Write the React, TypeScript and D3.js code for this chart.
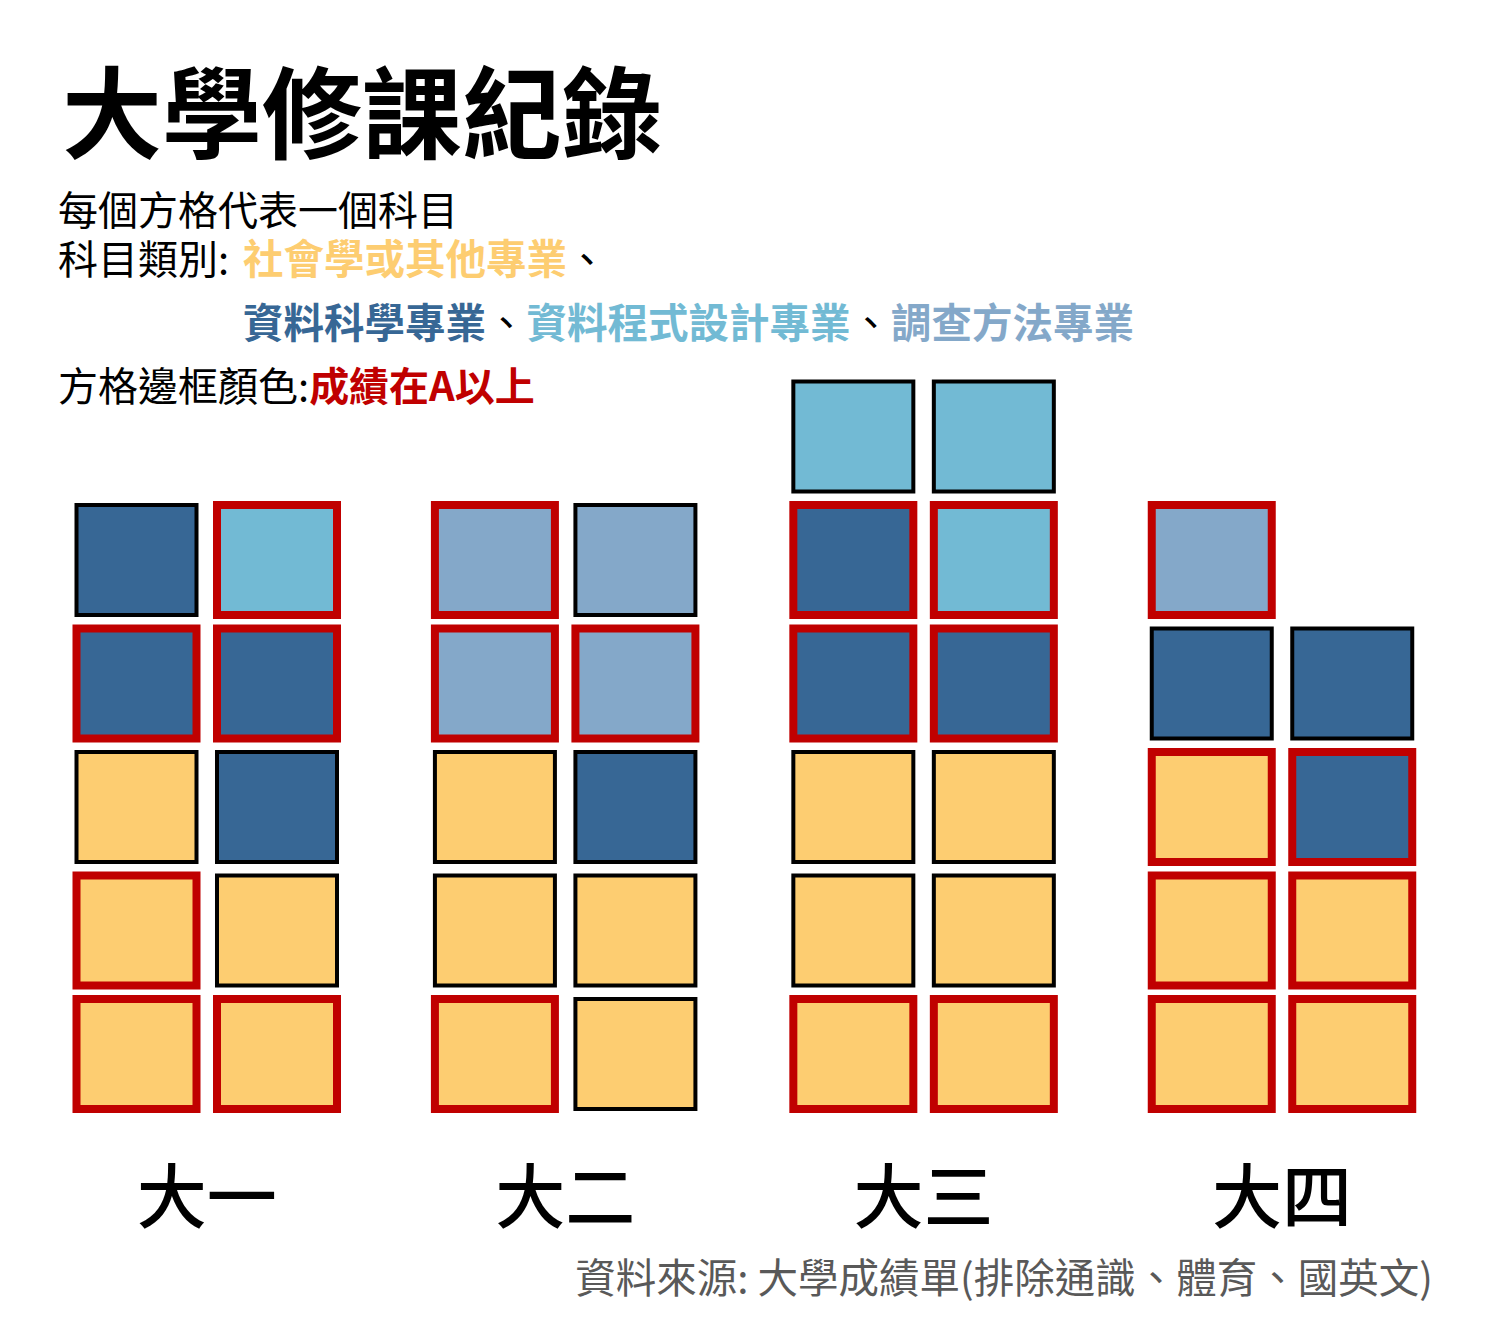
import React from 'react';
import { scaleLinear, scaleOrdinal } from 'd3';

const yearLabels = ['大一', '大二', '大三', '大四'];
const categories = ['社會學或其他專業', '資料科學專業', '資料程式設計專業', '調查方法專業'];
const categoryColors = ['#FDCD71', '#376795', '#72BAD4', '#84A8C9'];

// each column: course types bottom -> top, and whether the grade was A or above
const y1LeftType = ['社會學或其他專業', '社會學或其他專業', '社會學或其他專業', '資料科學專業', '資料科學專業'];
const y1LeftA = [true, true, false, true, false];
const y1RightType = ['社會學或其他專業', '社會學或其他專業', '資料科學專業', '資料科學專業', '資料程式設計專業'];
const y1RightA = [true, false, false, true, true];

const y2LeftType = ['社會學或其他專業', '社會學或其他專業', '社會學或其他專業', '調查方法專業', '調查方法專業'];
const y2LeftA = [true, false, false, true, true];
const y2RightType = ['社會學或其他專業', '社會學或其他專業', '資料科學專業', '調查方法專業', '調查方法專業'];
const y2RightA = [false, false, false, true, false];

const y3LeftType = ['社會學或其他專業', '社會學或其他專業', '社會學或其他專業', '資料科學專業', '資料科學專業', '資料程式設計專業'];
const y3LeftA = [true, false, false, true, true, false];
const y3RightType = ['社會學或其他專業', '社會學或其他專業', '社會學或其他專業', '資料科學專業', '資料程式設計專業', '資料程式設計專業'];
const y3RightA = [true, false, false, true, true, false];

const y4LeftType = ['社會學或其他專業', '社會學或其他專業', '社會學或其他專業', '資料科學專業', '調查方法專業'];
const y4LeftA = [true, true, true, false, true];
const y4RightType = ['社會學或其他專業', '社會學或其他專業', '資料科學專業', '資料科學專業'];
const y4RightA = [true, true, true, false];

const columns = [
  { year: 1, side: -1, types: y1LeftType, gradeA: y1LeftA },
  { year: 1, side: 1, types: y1RightType, gradeA: y1RightA },
  { year: 2, side: -1, types: y2LeftType, gradeA: y2LeftA },
  { year: 2, side: 1, types: y2RightType, gradeA: y2RightA },
  { year: 3, side: -1, types: y3LeftType, gradeA: y3LeftA },
  { year: 3, side: 1, types: y3RightType, gradeA: y3RightA },
  { year: 4, side: -1, types: y4LeftType, gradeA: y4LeftA },
  { year: 4, side: 1, types: y4RightType, gradeA: y4RightA },
];

const FONT = '"Noto Sans CJK TC", "Noto Sans CJK SC", sans-serif';
const W = 1485;
const H = 1318;

export default function App() {
  const x = scaleLinear().domain([1, 4]).range([206.75, 1282]);
  const y = scaleLinear().domain([0, 5]).range([1054, 436.5]);
  const color: any = scaleOrdinal<string, string>().domain(categories).range(categoryColors);

  const colOffset = 0.196; // half distance between the two columns of a year, in x units
  const boxW = 120;
  const boxH = 110;

  const boxes = columns.flatMap((c) =>
    c.types.map((t, i) => ({
      cx: x(c.year + c.side * colOffset),
      cy: y(i),
      fill: color(t),
      a: c.gradeA[i],
    }))
  );

  return (
    <svg width={W} height={H} style={{ position: 'absolute', left: 0, top: 0, background: '#fff' }} fontFamily={FONT}>
      <text x={62} y={151} fontSize={100} fontWeight={700} fill="#000">大學修課紀錄</text>

      <text x={58} y={225} fontSize={40} fill="#000">每個方格代表一個科目</text>
      <text x={58} y={274} fontSize={40} fill="#000">
        科目類別:{' '}
        <tspan x={243} fill={color(categories[0])} fontWeight={700} fontSize={40.5}>{categories[0]}</tspan>
        <tspan fill="#000">、</tspan>
      </text>
      <text x={243} y={338} fontSize={40.5} fontWeight={700}>
        <tspan fill={color(categories[1])}>{categories[1]}</tspan>
        <tspan fill="#000" fontWeight={400}>、</tspan>
        <tspan fill={color(categories[2])}>{categories[2]}</tspan>
        <tspan fill="#000" fontWeight={400}>、</tspan>
        <tspan fill={color(categories[3])}>{categories[3]}</tspan>
      </text>
      <text x={58} y={401} fontSize={40} fill="#000">
        方格邊框顏色:<tspan fill="#C00000" fontWeight={700}>成績在A以上</tspan>
      </text>

      <g>
        {boxes.map((b, i) => (
          <rect
            key={i}
            x={b.cx - boxW / 2}
            y={b.cy - boxH / 2}
            width={boxW}
            height={boxH}
            fill={b.fill}
            stroke={b.a ? '#C00000' : '#000'}
            strokeWidth={b.a ? 8 : 4}
          />
        ))}
      </g>

      <g>
        {yearLabels.map((lab, i) => (
          <text key={lab} x={x(i + 1)} y={1223} textAnchor="middle" fontSize={70} fontWeight={500} fill="#000">
            {lab}
          </text>
        ))}
      </g>

      <text x={1433} y={1293} textAnchor="end" fontSize={40.5} fill="#595959">
        資料來源: 大學成績單(排除通識、體育、國英文)
      </text>
    </svg>
  );
}
